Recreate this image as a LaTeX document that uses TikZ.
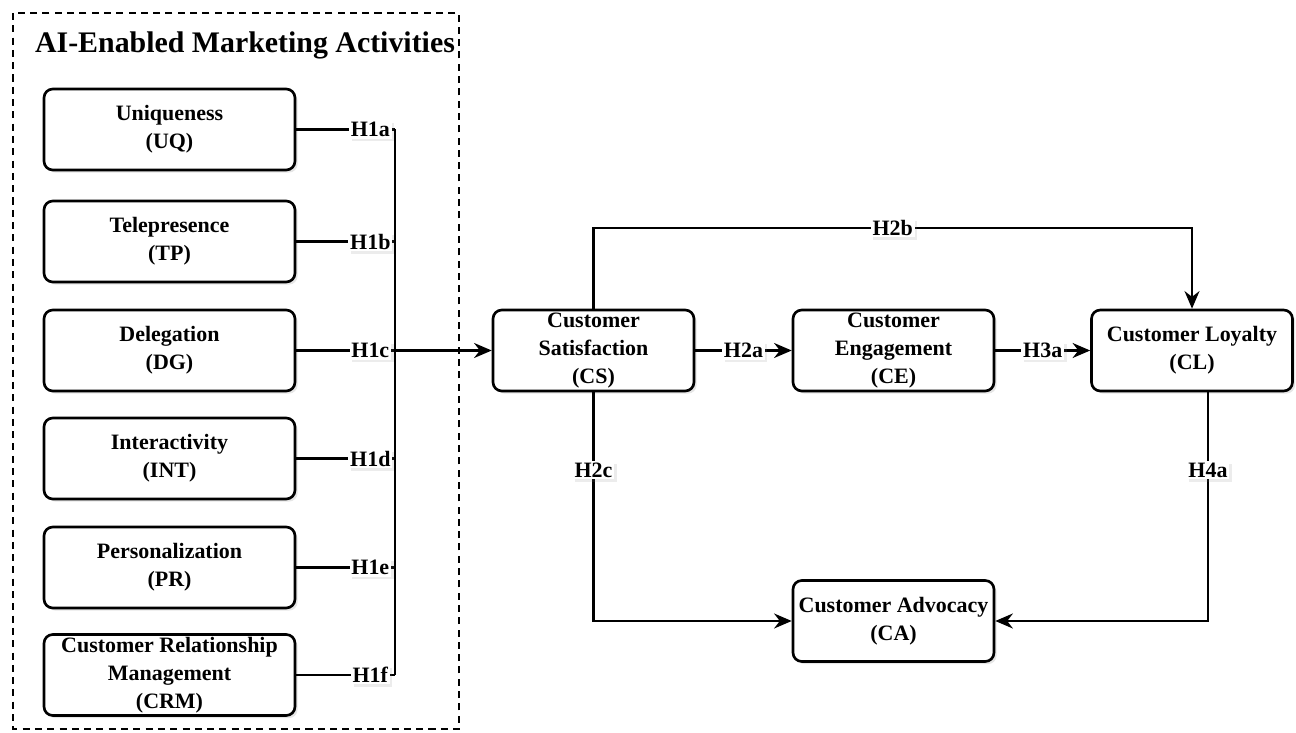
\documentclass[tikz,border=0pt]{standalone}
\usepackage{fontspec}
\setmainfont{Liberation Serif}
\usetikzlibrary{arrows.meta,shadows}
\begin{document}
\begin{tikzpicture}[
    x=0.02cm, y=-0.02cm,
    every node/.style={font=\bfseries\fontsize{12.5}{16}\selectfont, align=center},
    box/.style={rectangle, draw=black, line width=1.5pt, rounded corners=5pt, fill=white,
        minimum width=4.02cm, minimum height=1.62cm, inner sep=0pt,
        drop shadow={opacity=0.2, shadow xshift=1.5pt, shadow yshift=-1.5pt}},
    wide/.style={box, minimum width=5.02cm},
    hyp/.style={fill=white, inner sep=1pt,
        drop shadow={opacity=0.15, shadow xshift=1.5pt, shadow yshift=-1.5pt}},
    link/.style={line width=1.4pt, black},
    arr/.style={link, -{Stealth[length=10pt, width=8.5pt]}}
]
\useasboundingbox (0,0) rectangle (1296,733);
\draw[line width=1.4pt, dash pattern=on 4pt off 3pt] (13,13) rectangle (459,729);
\node[font=\bfseries\fontsize{17}{20}\selectfont] (title) at (245,45) {AI-Enabled Marketing Activities};
\node[wide] (uq)  at (169.5,129.5) {Uniqueness\\(UQ)};
\node[wide] (tp)  at (169.5,241.5) {Telepresence\\(TP)};
\node[wide] (dg)  at (169.5,350.5) {Delegation\\(DG)};
\node[wide] (int) at (169.5,458.5) {Interactivity\\(INT)};
\node[wide] (pr)  at (169.5,567.5) {Personalization\\(PR)};
\node[wide] (crm) at (169.5,675)   {Customer Relationship\\Management\\(CRM)};
\coordinate (b1) at (395,129.5);
\coordinate (b2) at (395,241.5);
\coordinate (b3) at (395,350.5);
\coordinate (b4) at (395,458.5);
\coordinate (b5) at (395,567.5);
\coordinate (b6) at (395,675);
\node[box] (cs) at (593.5,350.5) {Customer\\Satisfaction\\(CS)};
\node[box] (ce) at (893.5,350.5) {Customer\\Engagement\\(CE)};
\node[box] (cl) at (1192,350.5)  {Customer Loyalty\\(CL)};
\node[box] (ca) at (893.5,621)   {Customer Advocacy\\(CA)};
\coordinate (top) at (0,228);
\draw[link] (uq.east)  -- node[hyp, pos=0.75]{H1a} (b1);
\draw[link] (tp.east)  -- node[hyp, pos=0.75]{H1b} (b2);
\draw[link] (dg.east)  -- node[hyp, pos=0.75]{H1c} (b3);
\draw[link] (int.east) -- node[hyp, pos=0.75]{H1d} (b4);
\draw[link] (pr.east)  -- node[hyp, pos=0.75]{H1e} (b5);
\draw[link] (crm.east) -- node[hyp, pos=0.75]{H1f} (b6);
\draw[link] (b1) -- (b6);
\draw[arr] (b3) -- (cs.west);
\draw[arr] (cs.east) -- node[hyp, pos=0.5]{H2a} (ce.west);
\draw[arr] (ce.east) -- node[hyp, pos=0.5]{H3a} (cl.west);
\draw[arr] (cs.north) -- (cs.north |- top) -| node[hyp, pos=0.25]{H2b} (cl.north);
\draw[arr] (cs.south) |- node[hyp, pos=0.17]{H2c} (ca.west);
\draw[arr] ([xshift=0.32cm]cl.south) |- node[hyp, pos=0.17]{H4a} (ca.east);
\end{tikzpicture}
\end{document}
